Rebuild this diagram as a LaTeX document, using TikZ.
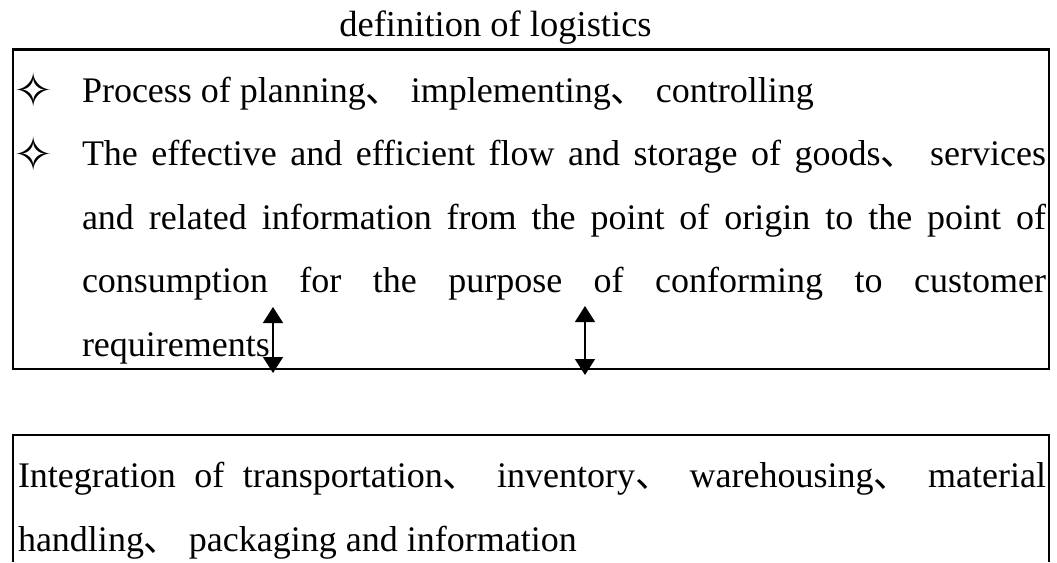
\documentclass[tikz,border=0pt]{standalone}
\usepackage{fontspec}
\setmainfont{Liberation Serif}
\newfontfamily\cjkfont{Noto Sans CJK SC}
\newfontfamily\symbolfont{DejaVu Sans}
\usetikzlibrary{arrows.meta}
% enumeration comma and bullet star
\newcommand\dunhao{{\cjkfont 、}}
\newcommand\starbullet{{\symbolfont ✧}}
\tikzset{
  boxframe/.style={draw, line width=2.6pt, line cap=butt, line join=miter},
  bodytext/.style={inner sep=0pt, outer sep=0pt, anchor=base west,
                   font=\fontsize{36pt}{43pt}\selectfont},
  titletext/.style={inner sep=0pt, anchor=base,
                    font=\fontsize{36.5pt}{43pt}\selectfont},
  bullet/.style={inner sep=0pt, anchor=center,
                 font=\fontsize{48pt}{52pt}\selectfont},
  dblarrow/.style={line width=1.5pt,
                   {Triangle[length=16pt,width=20pt]}-{Triangle[length=16pt,width=20pt]}}
}
\begin{document}
\begin{tikzpicture}[x=1pt,y=-1pt]
  \useasboundingbox (0,0) rectangle (1057,562);

  % heading
  \node[titletext] (title) at (495.5,36) {definition of logistics};

  % upper box with the definition
  \node[boxframe, anchor=north west, outer sep=0pt, inner sep=0pt,
        minimum width=1036pt, minimum height=319.5pt] (defbox) at (13,49.5) {};

  \node[bullet] (star1) at (33.5,90) {\starbullet};
  \node[bullet] (star2) at (33.5,153.5) {\starbullet};

  \node[bodytext] (d1) at (82,102)
    {Process of planning\dunhao{} implementing\dunhao{} controlling};
  \node[bodytext] (d2) at (82,165.5)
    {\makebox[964pt][s]{The effective and efficient flow and storage of goods\dunhao{} services}};
  \node[bodytext] (d3) at (82,229)
    {\makebox[964pt][s]{and related information from the point of origin to the point of}};
  \node[bodytext] (d4) at (82,292.5)
    {\makebox[964pt][s]{consumption for the purpose of conforming to customer}};
  \node[bodytext] (d5) at (82,356) {requirements};

  % lower box, open at the bottom edge
  \coordinate (lowBL) at (13,562);
  \coordinate (lowTL) at (13,435);
  \coordinate (lowTR) at (1049,435);
  \coordinate (lowBR) at (1049,562);
  \draw[boxframe] (lowBL) -- (lowTL) -- (lowTR) -- (lowBR);

  \node[bodytext] (i1) at (18,487)
    {\makebox[1028pt][s]{Integration of transportation\dunhao{} inventory\dunhao{} warehousing\dunhao{} material}};
  \node[bodytext] (i2) at (18,551)
    {handling\dunhao{} packaging and information};

  % two-way links between the definition and the integration
  \coordinate (a1top) at (273,307);
  \coordinate (a1bot) at (273,373);
  \coordinate (a2top) at (585,306);
  \coordinate (a2bot) at (585,375);
  \draw[dblarrow] (a1top) -- (a1bot);
  \draw[dblarrow] (a2top) -- (a2bot);
\end{tikzpicture}
\end{document}
